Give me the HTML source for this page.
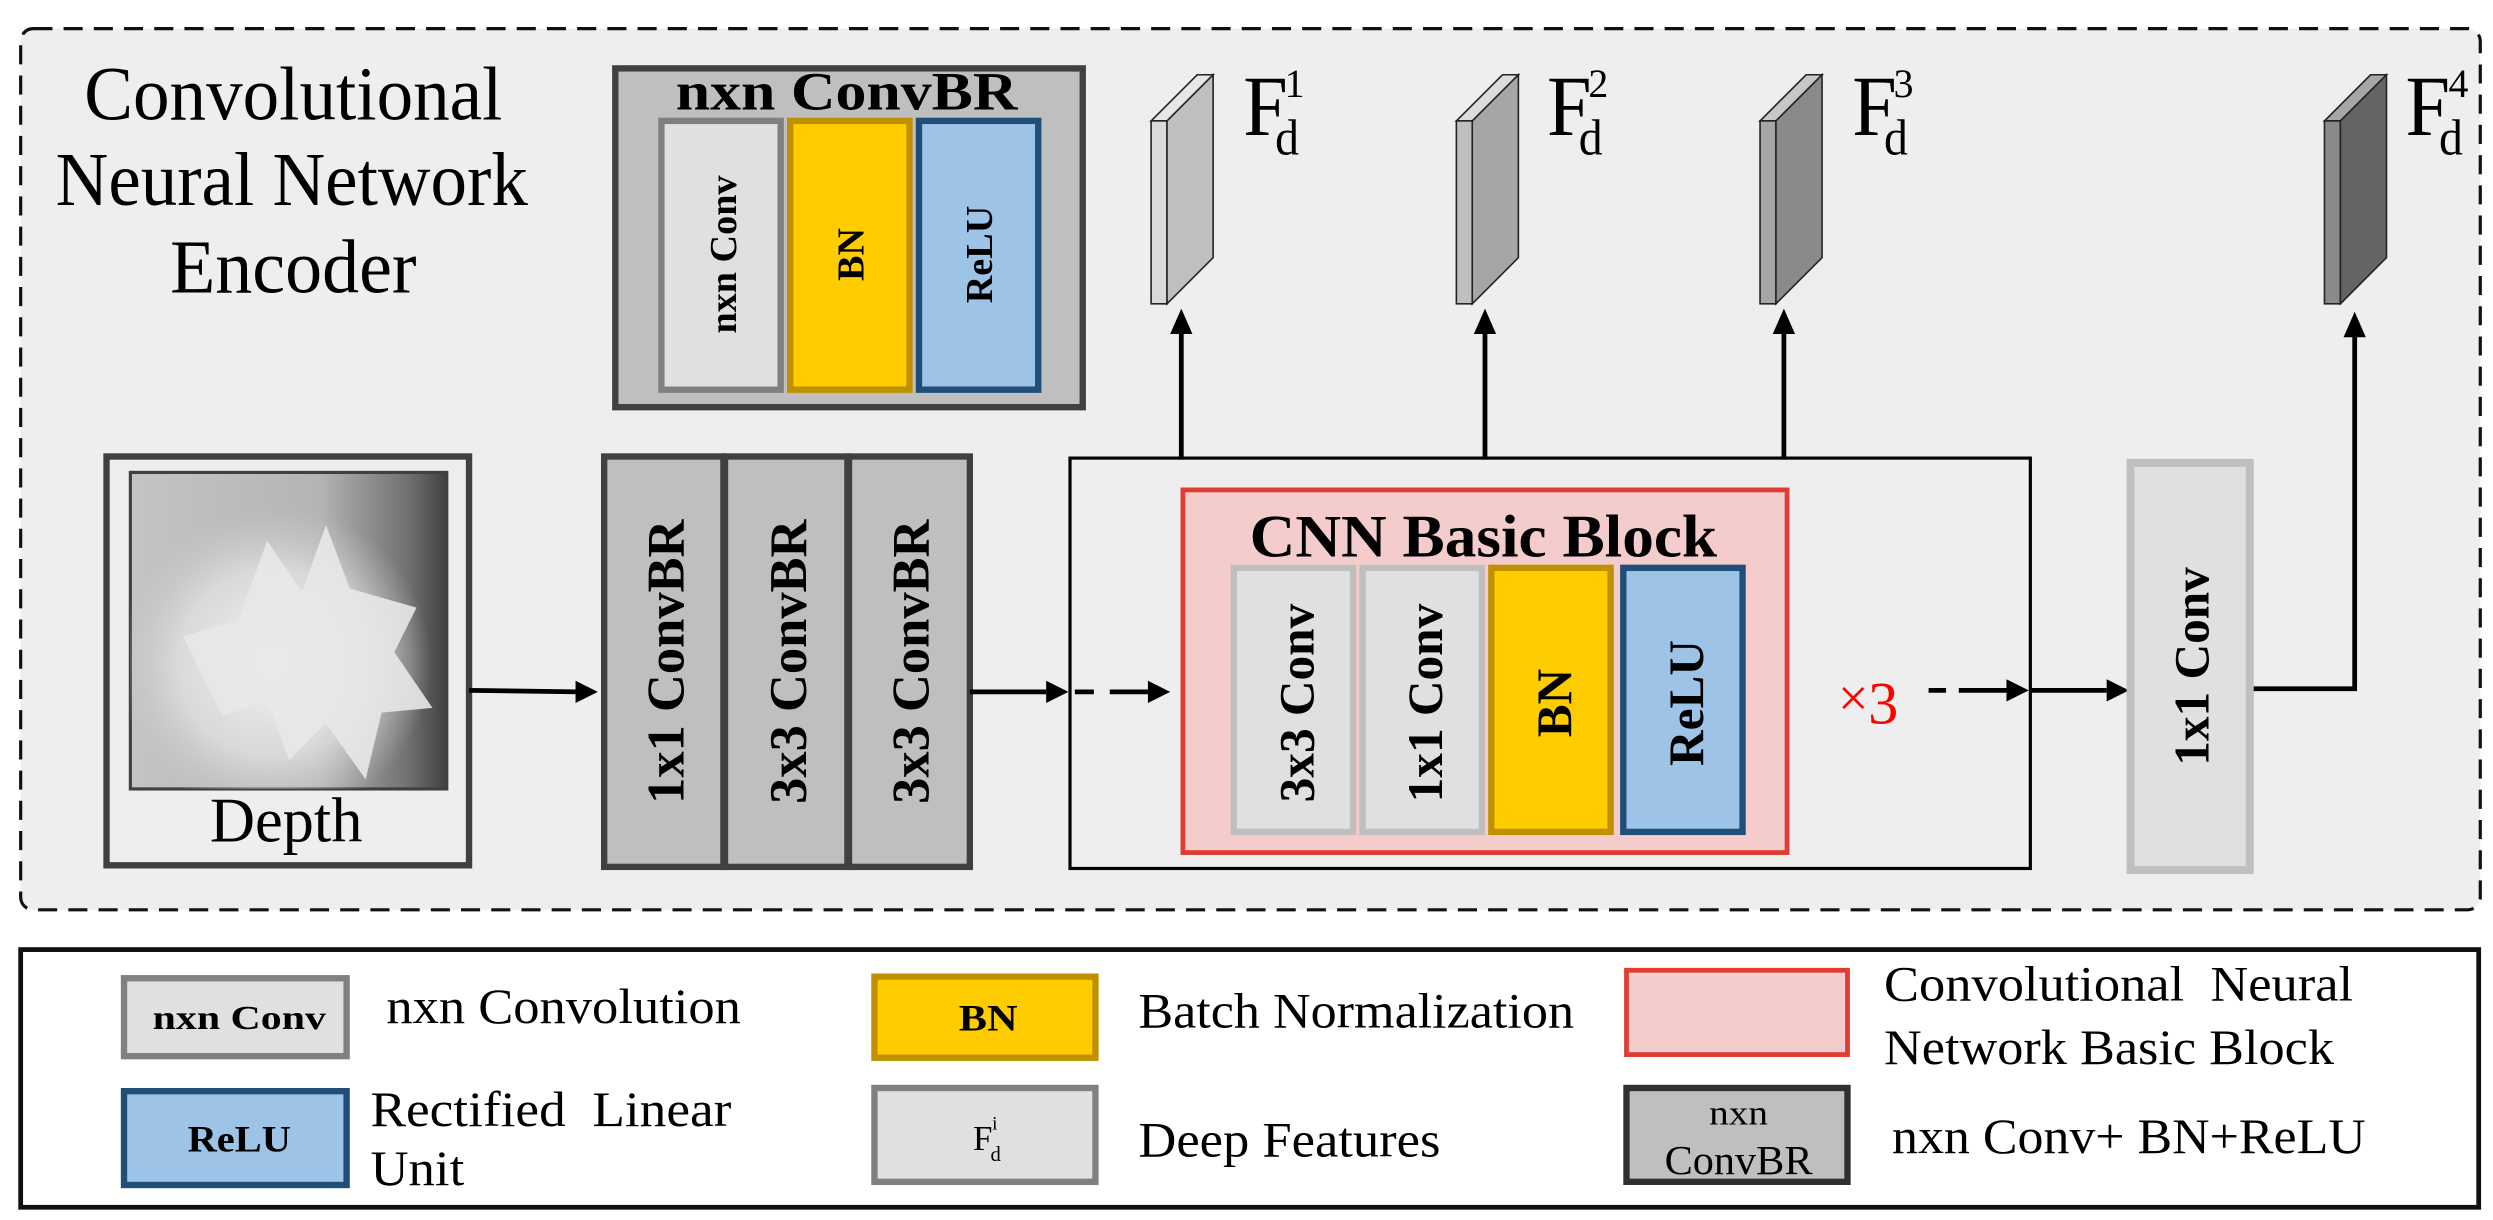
<!DOCTYPE html>
<html><head><meta charset="utf-8"><style>
html,body{margin:0;padding:0;background:#fff;}
svg{display:block;}
text{font-family:"Liberation Serif",serif;}
</style></head><body>
<svg width="2493" height="1220" viewBox="0 0 1568 767" preserveAspectRatio="none" xmlns="http://www.w3.org/2000/svg">
<defs>
<linearGradient id="dg" x1="0" y1="0" x2="1" y2="0">
<stop offset="0" stop-color="#c4c4c4"/><stop offset="0.6" stop-color="#b4b4b4"/><stop offset="0.88" stop-color="#707070"/><stop offset="1" stop-color="#404040"/>
</linearGradient>
<radialGradient id="fl" cx="0.45" cy="0.6" r="0.5">
<stop offset="0" stop-color="#f4f4f4"/><stop offset="0.6" stop-color="#e0e0e0" stop-opacity="0.8"/><stop offset="1" stop-color="#c8c8c8" stop-opacity="0"/>
</radialGradient>
</defs>
<rect x="0" y="0" width="1568" height="767" fill="#fff"/>
<rect x="13" y="18" width="1547" height="554" rx="8" fill="#eeeeee" stroke="#111" stroke-width="2" stroke-dasharray="12,7"/>
<g font-size="48">
<text x="53" y="75" textLength="263" lengthAdjust="spacingAndGlyphs">Convolutional</text>
<text x="35" y="129" textLength="297" lengthAdjust="spacingAndGlyphs">Neural Network</text>
<text x="107" y="184" textLength="155" lengthAdjust="spacingAndGlyphs">Encoder</text>
</g>

<rect x="387" y="43" width="294" height="213" fill="#bfbfbf" stroke="#404040" stroke-width="4"/>
<text x="425" y="69" font-size="34" font-weight="bold" textLength="215" lengthAdjust="spacingAndGlyphs">nxn ConvBR</text>
<rect x="416" y="76" width="75" height="169" fill="#e0e0e0" stroke="#808080" stroke-width="4"/>
<rect x="497" y="76" width="75" height="169" fill="#ffcc00" stroke="#bf9000" stroke-width="4"/>
<rect x="578" y="76" width="75" height="169" fill="#9dc3e6" stroke="#1f4e79" stroke-width="4"/>
<text transform="translate(463,160) rotate(-90)" font-size="24" font-weight="bold" text-anchor="middle">nxn Conv</text>
<text transform="translate(543,160) rotate(-90)" font-size="24" font-weight="bold" text-anchor="middle">BN</text>
<text transform="translate(624,160) rotate(-90)" font-size="24" font-weight="bold" text-anchor="middle">ReLU</text>

<rect x="67" y="287" width="228" height="257" fill="#eeeeee" stroke="#404040" stroke-width="4"/>
<rect x="82" y="297" width="199" height="199" fill="url(#dg)" stroke="#404040" stroke-width="2"/>
<rect x="82" y="297" width="199" height="199" fill="url(#fl)"/>
<path d="M115 400 L150 390 L168 340 L190 372 L205 330 L220 370 L262 382 L248 410 L272 445 L240 448 L230 490 L205 455 L182 478 L168 440 L140 450 Z" fill="#e8e8e8" opacity="0.9"/>
<text x="132" y="529" font-size="40" textLength="96" lengthAdjust="spacingAndGlyphs">Depth</text>

<rect x="380" y="287" width="75" height="258" fill="#bfbfbf" stroke="#404040" stroke-width="4"/>
<rect x="456" y="287" width="77" height="258" fill="#bfbfbf" stroke="#404040" stroke-width="4"/>
<rect x="534" y="287" width="76" height="258" fill="#bfbfbf" stroke="#404040" stroke-width="4"/>
<text transform="translate(430,416) rotate(-90)" font-size="33" font-weight="bold" text-anchor="middle">1x1 ConvBR</text>
<text transform="translate(507,416) rotate(-90)" font-size="33" font-weight="bold" text-anchor="middle">3x3 ConvBR</text>
<text transform="translate(584,416) rotate(-90)" font-size="33" font-weight="bold" text-anchor="middle">3x3 ConvBR</text>

<g stroke="#000" stroke-width="3" fill="none">
<line x1="295" y1="434" x2="364" y2="435"/>
<line x1="610" y1="435" x2="658" y2="435"/>
<line x1="676" y1="435" x2="688" y2="435"/>
<line x1="698" y1="435" x2="722" y2="435"/>
<line x1="1213" y1="434" x2="1224" y2="434"/>
<line x1="1232" y1="434" x2="1262" y2="434"/>
<line x1="1277" y1="434" x2="1325" y2="434"/>
<polyline points="1415,433 1481,433 1481,210"/>
<line x1="743" y1="288" x2="743" y2="208"/>
<line x1="934" y1="288" x2="934" y2="208"/>
<line x1="1122" y1="288" x2="1122" y2="208"/>
</g>
<g fill="#000">
<polygon points="376,435 362,428 362,442"/>
<polygon points="672,435 658,428 658,442"/>
<polygon points="736,435 722,428 722,442"/>
<polygon points="1276,434 1262,427 1262,441"/>
<polygon points="1339,434 1325,427 1325,441"/>
<polygon points="743,194 736,210 750,210"/>
<polygon points="934,194 927,210 941,210"/>
<polygon points="1122,194 1115,210 1129,210"/>
<polygon points="1481,196 1474,212 1488,212"/>
</g>

<rect x="673" y="288" width="604" height="258" fill="none" stroke="#000" stroke-width="2"/>
<rect x="744" y="308" width="380" height="228" fill="#f4cccc" stroke="#e03c31" stroke-width="3"/>
<text x="786" y="350" font-size="38" font-weight="bold" textLength="294" lengthAdjust="spacingAndGlyphs">CNN Basic Block</text>
<rect x="776" y="357" width="75" height="166" fill="#e0e0e0" stroke="#bfbfbf" stroke-width="4"/>
<rect x="857" y="357" width="75" height="166" fill="#e0e0e0" stroke="#bfbfbf" stroke-width="4"/>
<rect x="938" y="357" width="75" height="166" fill="#ffcc00" stroke="#bf9000" stroke-width="4"/>
<rect x="1021" y="357" width="75" height="166" fill="#9dc3e6" stroke="#1f4e79" stroke-width="4"/>
<text transform="translate(826,442) rotate(-90)" font-size="31" font-weight="bold" text-anchor="middle">3x3 Conv</text>
<text transform="translate(907,442) rotate(-90)" font-size="31" font-weight="bold" text-anchor="middle">1x1 Conv</text>
<text transform="translate(988,442) rotate(-90)" font-size="31" font-weight="bold" text-anchor="middle">BN</text>
<text transform="translate(1071,442) rotate(-90)" font-size="31" font-weight="bold" text-anchor="middle">ReLU</text>
<text x="1156" y="450" font-size="34" fill="#ff0000">×</text>
<text x="1175" y="455" font-size="38" fill="#ff0000">3</text>

<rect x="1340" y="291" width="75" height="256" fill="#e0e0e0" stroke="#bfbfbf" stroke-width="5"/>
<text transform="translate(1389,419) rotate(-90)" font-size="31" font-weight="bold" text-anchor="middle">1x1 Conv</text>

<g stroke="#222" stroke-width="1">
<polygon points="724,76 753,47 763,47 734,76" fill="#e6e6e6"/>
<rect x="724" y="76" width="10" height="115" fill="#d9d9d9"/>
<polygon points="734,76 763,47 763,162 734,191" fill="#bfbfbf"/>
<polygon points="916,76 945,47 955,47 926,76" fill="#dcdcdc"/>
<rect x="916" y="76" width="10" height="115" fill="#bfbfbf"/>
<polygon points="926,76 955,47 955,162 926,191" fill="#a6a6a6"/>
<polygon points="1107,76 1136,47 1146,47 1117,76" fill="#c8c8c8"/>
<rect x="1107" y="76" width="10" height="115" fill="#a6a6a6"/>
<polygon points="1117,76 1146,47 1146,162 1117,191" fill="#8a8a8a"/>
<polygon points="1462,76 1491,47 1501,47 1472,76" fill="#a6a6a6"/>
<rect x="1462" y="76" width="10" height="115" fill="#8a8a8a"/>
<polygon points="1472,76 1501,47 1501,162 1472,191" fill="#646464"/>
</g>
<g font-size="54">
<text x="782" y="85" textLength="28" lengthAdjust="spacingAndGlyphs">F</text>
<text x="973" y="85" textLength="28" lengthAdjust="spacingAndGlyphs">F</text>
<text x="1165" y="85" textLength="28" lengthAdjust="spacingAndGlyphs">F</text>
<text x="1513" y="85" textLength="28" lengthAdjust="spacingAndGlyphs">F</text>
</g>
<g font-size="25">
<text x="808" y="61">1</text><text x="999" y="61">2</text><text x="1191" y="61">3</text><text x="1540" y="61">4</text>
</g>
<g font-size="32">
<text x="802" y="97" textLength="15" lengthAdjust="spacingAndGlyphs">d</text><text x="993" y="97" textLength="15" lengthAdjust="spacingAndGlyphs">d</text><text x="1185" y="97" textLength="15" lengthAdjust="spacingAndGlyphs">d</text><text x="1534" y="97" textLength="15" lengthAdjust="spacingAndGlyphs">d</text>
</g>

<rect x="13" y="597" width="1546" height="162" fill="#fff" stroke="#111" stroke-width="3"/>
<rect x="78" y="615" width="140" height="49" fill="#e0e0e0" stroke="#808080" stroke-width="4"/>
<text x="96" y="647" font-size="21" font-weight="bold" textLength="109" lengthAdjust="spacingAndGlyphs">nxn Conv</text>
<text x="243" y="643" font-size="31" textLength="223" lengthAdjust="spacingAndGlyphs">nxn Convolution</text>
<rect x="78" y="686" width="140" height="59" fill="#9dc3e6" stroke="#1f4e79" stroke-width="4"/>
<text x="118" y="724" font-size="23" font-weight="bold" textLength="65" lengthAdjust="spacingAndGlyphs">ReLU</text>
<text x="233" y="708" font-size="31" textLength="227" lengthAdjust="spacingAndGlyphs" xml:space="preserve">Rectified  Linear</text>
<text x="233" y="745" font-size="31" textLength="59" lengthAdjust="spacingAndGlyphs">Unit</text>
<rect x="550" y="614" width="139" height="51" fill="#ffcc00" stroke="#bf9000" stroke-width="4"/>
<text x="603" y="648" font-size="23" font-weight="bold" textLength="37" lengthAdjust="spacingAndGlyphs">BN</text>
<text x="716" y="646" font-size="31" textLength="274" lengthAdjust="spacingAndGlyphs">Batch Normalization</text>
<rect x="550" y="684" width="139" height="59" fill="#e0e0e0" stroke="#808080" stroke-width="4"/>
<text x="612" y="723" font-size="22">F</text><text x="624" y="710" font-size="12">i</text><text x="623" y="730" font-size="13">d</text>
<text x="716" y="727" font-size="31" textLength="190" lengthAdjust="spacingAndGlyphs">Deep Features</text>
<rect x="1023" y="610" width="139" height="53" fill="#f4cccc" stroke="#e03c31" stroke-width="3"/>
<text x="1185" y="629" font-size="31" textLength="295" lengthAdjust="spacingAndGlyphs" xml:space="preserve">Convolutional  Neural</text>
<text x="1185" y="669" font-size="31" textLength="283" lengthAdjust="spacingAndGlyphs">Network Basic Block</text>
<rect x="1023" y="684" width="139" height="59" fill="#bfbfbf" stroke="#303030" stroke-width="4"/>
<text x="1075" y="707" font-size="22" textLength="37" lengthAdjust="spacingAndGlyphs">nxn</text>
<text x="1047" y="738" font-size="26" textLength="93" lengthAdjust="spacingAndGlyphs">ConvBR</text>
<text x="1190" y="725" font-size="31" textLength="298" lengthAdjust="spacingAndGlyphs">nxn Conv+ BN+ReLU</text>
</svg>
</body></html>
